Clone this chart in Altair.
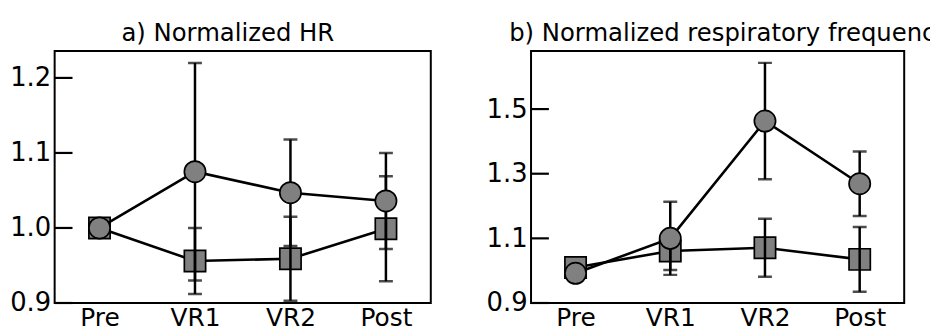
import altair as alt
import pandas as pd

# ---- data ----
conditions = ["Pre", "VR1", "VR2", "Post"]

hr_circle = [1.000, 1.075, 1.047, 1.036]
hr_circle_err = [0.0, 0.145, 0.071, 0.064]
hr_square = [1.000, 0.956, 0.959, 0.999]
hr_square_err = [0.0, 0.044, 0.056, 0.070]

rf_circle = [0.992, 1.100, 1.463, 1.269]
rf_circle_err = [0.0, 0.113, 0.180, 0.100]
rf_square = [1.010, 1.061, 1.071, 1.035]
rf_square_err = [0.0, 0.059, 0.090, 0.100]

hr_ticks = [0.9, 1.0, 1.1, 1.2]
rf_ticks = [0.9, 1.1, 1.3, 1.5]

hr_domain = [0.9, 1.236]
rf_domain = [0.9, 1.68]

titles = ["a) Normalized HR", "b) Normalized respiratory frequency"]

FONT = "DejaVu Sans"
GRAY = "#808080"


def series_df(vals, errs):
    return pd.DataFrame({"cond": conditions, "v": vals, "err": errs})


def err_df(vals, errs):
    rows = []
    for c, v, e in zip(conditions, vals, errs):
        if e > 0:
            rows.append({"cond": c, "lo": v - e, "hi": v + e})
    return pd.DataFrame(rows)


def panel(circ, circ_err, sq, sq_err, ticks, domain, title, width, anchor, dx):
    yscale = alt.Scale(domain=domain, nice=False, zero=False)
    yaxis = alt.Axis(values=ticks, format=".1f", grid=False, domain=False, ticks=False,
                     labelFontSize=26, labelColor="black", labelPadding=4, title=None,
                     labelFont=FONT)
    xenc = alt.X("cond:N", sort=conditions, scale=alt.Scale(type="point", padding=0.47),
                 axis=alt.Axis(title=None, domain=False, ticks=False, grid=False, labelAngle=0,
                               labelFontSize=25, labelColor="black", labelPadding=3,
                               labelFont=FONT))

    tick_rules = alt.Chart(pd.DataFrame({"t": ticks})).mark_rule(
        color="black", strokeWidth=2.2).encode(
        y=alt.Y("t:Q", scale=yscale, axis=yaxis),
        x=alt.value(0), x2=alt.value(18))

    def line_pts(vals, errs, shape):
        d = series_df(vals, errs)
        base = alt.Chart(d).encode(x=xenc, y=alt.Y("v:Q", scale=yscale, axis=yaxis))
        ln = base.mark_line(color="black", strokeWidth=2.6)
        pt = base.mark_point(shape=shape, filled=True, fill=GRAY, stroke="black",
                             strokeWidth=1.7, size=460, opacity=1)
        return ln, pt

    def err_layers(vals, errs):
        d = err_df(vals, errs)
        base = alt.Chart(d).encode(x=xenc)
        r = base.mark_rule(color="black", strokeWidth=2.5, clip=True).encode(
            y=alt.Y("lo:Q", scale=yscale, axis=yaxis), y2="hi:Q")
        t1 = base.mark_tick(color="black", thickness=2.5, size=14, orient="horizontal",
                            clip=True).encode(y=alt.Y("lo:Q", scale=yscale, axis=yaxis))
        t2 = base.mark_tick(color="black", thickness=2.5, size=14, orient="horizontal",
                            clip=True).encode(y=alt.Y("hi:Q", scale=yscale, axis=yaxis))
        return [r, t1, t2]

    sq_ln, sq_pt = line_pts(sq, sq_err, "square")
    c_ln, c_pt = line_pts(circ, circ_err, "circle")

    layers = [tick_rules, sq_ln, sq_pt] + err_layers(sq, sq_err) + err_layers(circ, circ_err) + [c_ln, c_pt]
    return alt.layer(*layers).properties(
        width=width, height=254,
        title=alt.TitleParams(title, fontSize=24.5, font=FONT, fontWeight="normal", color="black",
                              anchor=anchor, frame="group", dx=dx, baseline="alphabetic",
                              offset=-14.5))


pa = panel(hr_circle, hr_circle_err, hr_square, hr_square_err, hr_ticks, hr_domain,
           titles[0], 379, "middle", -15)
pb = panel(rf_circle, rf_circle_err, rf_square, rf_square_err, rf_ticks, rf_domain,
           titles[1], 376, "start", -22)

chart = alt.hconcat(pa, pb, spacing=53).properties(
    padding={"left": 0, "top": 11, "right": -22, "bottom": 0}
).configure(font=FONT).configure_view(stroke="black", strokeWidth=2)

chart.save("out.html", embed_options={"renderer": "svg", "actions": False})
